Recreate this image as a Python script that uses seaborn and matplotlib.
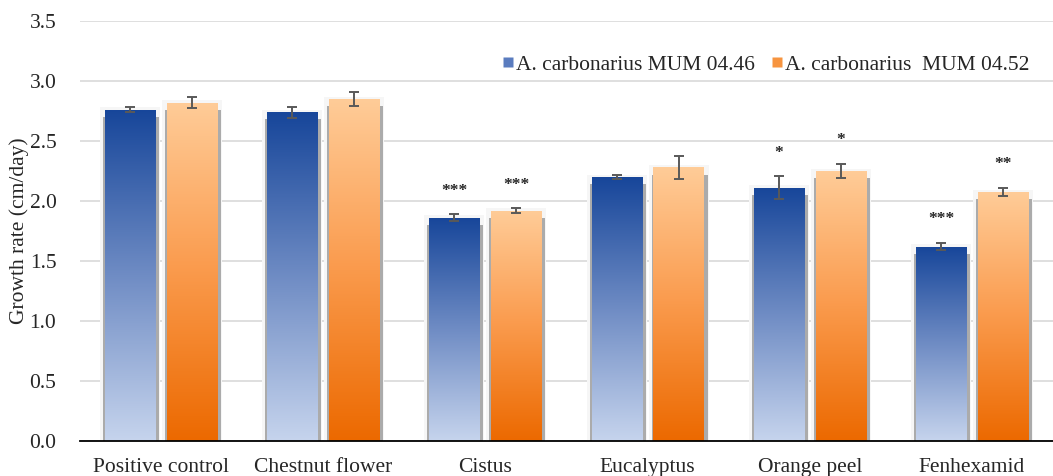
import matplotlib
matplotlib.use("Agg")
import matplotlib.pyplot as plt
import seaborn as sns
import numpy as np
import pandas as pd
from matplotlib.patches import Rectangle
from matplotlib.colors import LinearSegmentedColormap
from matplotlib.lines import Line2D

# dados
categorias = ["Positive control", "Chestnut flower", "Cistus", "Eucalyptus", "Orange peel", "Fenhexamid"]
estirpes = ["A. carbonarius MUM 04.46", "A. carbonarius  MUM 04.52"]
taxa_0446 = [2.76, 2.74, 1.86, 2.20, 2.11, 1.62]
erro_0446 = [0.02, 0.045, 0.03, 0.02, 0.097, 0.03]
taxa_0452 = [2.82, 2.85, 1.92, 2.28, 2.25, 2.075]
erro_0452 = [0.045, 0.055, 0.02, 0.094, 0.06, 0.036]
sig_0446 = ["", "", "***", "", "*", "***"]
sig_0452 = ["", "", "***", "", "*", "**"]

df = pd.DataFrame({
    "categoria": categorias * 2,
    "estirpe": [estirpes[0]] * 6 + [estirpes[1]] * 6,
    "taxa": taxa_0446 + taxa_0452,
})

sns.set_style("white")
plt.rcParams["font.family"] = ["Liberation Serif", "DejaVu Serif"]
plt.rcParams["font.size"] = 15.5

fig = plt.figure(figsize=(10.53, 4.76), dpi=100)
ax = fig.add_axes([80 / 1053, 35 / 476, 973 / 1053, 420 / 476])

sns.barplot(data=df, x="categoria", y="taxa", hue="estirpe", order=categorias,
            hue_order=estirpes, width=0.764, gap=0.19, errorbar=None,
            palette=["#4a6fb5", "#f58a30"], legend=False, ax=ax, zorder=3)

# gradientes (azul escuro em cima, laranja escuro em baixo)
cmaps = [LinearSegmentedColormap.from_list("b", ["#c6d4ed", "#6f8cc4", "#17469a"]),
         LinearSegmentedColormap.from_list("o", ["#ec6900", "#fa9a4c", "#ffcc98"])]
erros = [erro_0446, erro_0452]
sigs = [sig_0446, sig_0452]
grad = np.linspace(0, 1, 256).reshape(-1, 1)
barras_series = [list(c) for c in ax.containers]

for k, cont in enumerate(barras_series):
    for i, barra in enumerate(cont):
        x0, w, h = barra.get_x(), barra.get_width(), barra.get_height()
        # sombra
        ax.add_patch(Rectangle((x0 - 0.03, 0), w + 0.06, h + 0.02, color="#f6f6f6", zorder=1, lw=0))
        ax.add_patch(Rectangle((x0 - 0.012, 0), w + 0.036, h - 0.06, color="#ababab", zorder=2, lw=0))
        img = ax.imshow(grad, cmap=cmaps[k], origin="lower", aspect="auto",
                        extent=[x0, x0 + w, 0, h], zorder=3)
        img.set_clip_path(barra)
        barra.set_facecolor("none")
        barra.set_edgecolor("none")
        cx = x0 + w / 2
        ax.errorbar(cx, h, yerr=erros[k][i], fmt="none", ecolor="#595959",
                    elinewidth=1.4, capsize=3.8, capthick=1.4, zorder=5)
        if sigs[k][i]:
            ax.text(cx, h + erros[k][i] + 0.13, sigs[k][i], ha="center", va="bottom",
                    fontsize=12.5, fontweight="bold", zorder=6)

ax.set_xlim(-0.5, -0.5 + 973 / 165)
ax.set_ylim(0, 3.5)
ax.set_yticks(np.arange(0, 3.51, 0.5))
ax.yaxis.set_major_formatter(matplotlib.ticker.FormatStrFormatter("%.1f"))
ax.grid(axis="y", color="#d9d9d9", lw=1.2, zorder=0)
ax.set_axisbelow(True)

for lado in ["left", "right", "top"]:
    ax.spines[lado].set_visible(False)
ax.spines["bottom"].set_color("black")
ax.spines["bottom"].set_linewidth(1.3)
ax.spines["bottom"].set_zorder(7)

ax.set_xticks(np.arange(len(categorias)))
ax.set_xticklabels(categorias)
ax.set_xticks(np.arange(-0.5, len(categorias), 1), minor=True)
ax.tick_params(axis="x", which="major", length=0, pad=12)
ax.tick_params(axis="x", which="minor", length=6, width=1.2, color="black", direction="out")
ax.tick_params(axis="y", length=0, pad=17)

ax.set_xlabel("")
ax.set_ylabel("Growth rate (cm/day)")
ax.yaxis.set_label_coords(-0.052, 0.5)

handles = [Line2D([], [], marker="s", ls="none", markersize=7, markerfacecolor="#5a7cbf", markeredgecolor="none"),
           Line2D([], [], marker="s", ls="none", markersize=7, markerfacecolor="#f7943f", markeredgecolor="none")]
ax.legend(handles, estirpes, loc="upper right", bbox_to_anchor=(0.985, 0.94), ncol=2, frameon=False,
          handletextpad=0.0, columnspacing=0.6, handlelength=0.8, borderaxespad=0)

fig.savefig("out.png", dpi=100)
